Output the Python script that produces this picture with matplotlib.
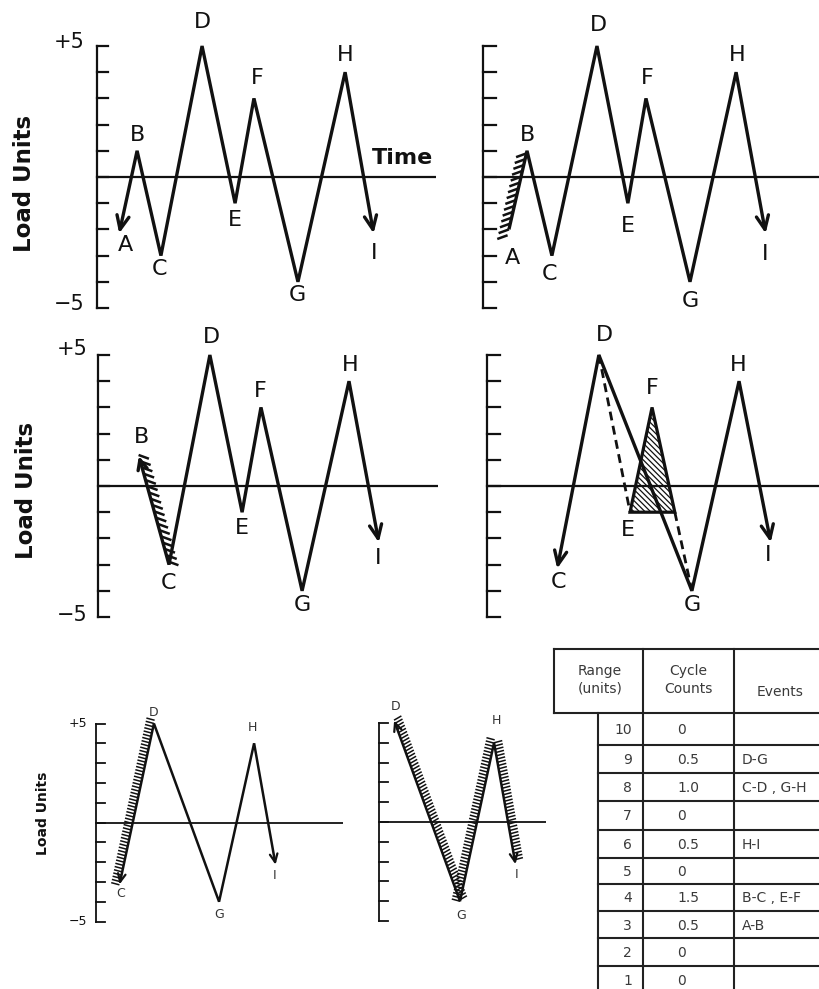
import matplotlib
matplotlib.use("Agg")
import matplotlib.pyplot as plt
from matplotlib.collections import LineCollection
from matplotlib.patches import Polygon
import numpy as np

plt.rcParams['font.family'] = ['DejaVu Sans']
plt.rcParams['hatch.linewidth'] = 0.9
plt.rcParams['hatch.color'] = '#333333'

W, H = 820, 989
fig = plt.figure(figsize=(W / 100, H / 100), dpi=100)
INK = '#111111'
TXT = '#3a3a3a'

# ---------------- data ----------------
event_labels = ["A", "B", "C", "D", "E", "F", "G", "H", "I"]
event_loads = [-2, 1, -3, 5, -1, 3, -4, 4, -2]

# time position of each turning point, per panel (arbitrary time units)
times_p1 = [0.88, 1.53, 2.44, 4.01, 5.27, 5.99, 7.67, 9.47, 10.53]   # A..I
times_p2 = [0.99, 1.68, 2.63, 4.35, 5.53, 6.22, 7.90, 9.66, 10.76]   # A..I
labels_p3 = ["B", "C", "D", "E", "F", "G", "H", "I"]
times_p3 = [1.60, 2.71, 4.27, 5.50, 6.22, 7.79, 9.58, 10.69]
labels_p4 = ["C", "D", "E", "F", "G", "H", "I"]
times_p4 = [2.71, 4.27, 5.46, 6.30, 7.82, 9.62, 10.80]
labels_p5 = ["C", "D", "G", "H", "I"]
times_p5 = [1.23, 2.94, 6.23, 8.00, 9.06]
labels_p6 = ["D", "G", "H", "I"]
times_p6 = [0.81, 4.09, 5.81, 6.87]

table_ranges = [10, 9, 8, 7, 6, 5, 4, 3, 2, 1]
table_counts = ["0", "0.5", "1.0", "0", "0.5", "0", "1.5", "0.5", "0", "0"]
table_events = ["", "D-G", "C-D , G-H", "", "H-I", "", "B-C , E-F", "A-B", "", ""]

load_of = dict(zip(event_labels, event_loads))


# ---------------- helpers ----------------
def panel(ax_x, zero_y, s, left, right, top, bottom):
    ax = fig.add_axes([left / W, 1 - bottom / H, (right - left) / W, (bottom - top) / H])
    ax.set_xlim((left - ax_x) / s, (right - ax_x) / s)
    ax.set_ylim((zero_y - bottom) / s, (zero_y - top) / s)
    ax.axis('off')
    ax.px = s
    return ax


def bracket(ax, tick_px, lw, x_end):
    s = ax.px
    segs = [[(0, -5), (0, 5)]]
    for v in range(-5, 6):
        segs.append([(0, v), (tick_px / s, v)])
    ax.add_collection(LineCollection(segs, colors=INK, linewidths=lw, capstyle='projecting'))
    ax.plot([0, x_end / s], [0, 0], color=INK, lw=lw, solid_capstyle='butt', clip_on=False)


def arrowhead(ax, p_from, p_to, length, half_angle, lw):
    a = ax.transData.transform(p_from)
    b = ax.transData.transform(p_to)
    d = (a - b) / np.linalg.norm(a - b)
    inv = ax.transData.inverted()
    segs = []
    for sgn in (1, -1):
        th = np.radians(sgn * half_angle)
        r = np.array([d[0] * np.cos(th) - d[1] * np.sin(th),
                      d[0] * np.sin(th) + d[1] * np.cos(th)])
        segs.append(inv.transform([b, b + r * length]))
    ax.add_collection(LineCollection(segs, colors=INK, linewidths=lw, capstyle='round'))


def hatch_strokes(ax, p0, p1, angle_deg, length, spacing, lw, ext0=0.0, ext1=0.0):
    a = ax.transData.transform(p0)
    b = ax.transData.transform(p1)
    L = np.linalg.norm(b - a)
    u = (b - a) / L
    dv = np.array([np.cos(np.radians(angle_deg)), np.sin(np.radians(angle_deg))])
    inv = ax.transData.inverted()
    segs = []
    for dd in np.arange(-ext0, L + ext1, spacing):
        q = a + u * dd
        segs.append(inv.transform([q, q + dv * length]))
    ax.add_collection(LineCollection(segs, colors=INK, linewidths=lw, capstyle='butt'))


def path(ax, ts, labs, lw):
    ys = [load_of[l] for l in labs]
    ax.plot(ts, ys, color=INK, lw=lw, solid_joinstyle='miter', solid_capstyle='butt')
    return dict(zip(labs, zip(ts, ys)))


def put_labels(ax, pts, offsets, size, color=INK):
    for lab, (dx, dy) in offsets.items():
        ax.annotate(lab, xy=pts[lab], xytext=(dx, -dy), textcoords='offset pixels',
                    ha='center', va='center', fontsize=size, color=color, annotation_clip=False)


def side_text(ax, txt, v, dx, dy, size):
    ax.annotate(txt, xy=(0, v), xytext=(dx, -dy), textcoords='offset pixels',
                ha='right', va='center', fontsize=size, color=INK, annotation_clip=False)


# ---------------- panel 1 (top-left) ----------------
ax1 = panel(97, 177, 26.2, 0, 440, 0, 320)
bracket(ax1, 11, 1.6, 339)
p = path(ax1, times_p1, event_labels, 2.4)
arrowhead(ax1, p["B"], p["A"], 15, 24, 2.4)
arrowhead(ax1, p["H"], p["I"], 15, 24, 2.4)
put_labels(ax1, p, {"A": (5, 16), "B": (0, -16), "C": (-1, 13), "D": (0, -24), "E": (0, 17),
                    "F": (3, -20), "G": (-1, 13), "H": (0, -17), "I": (1, 24)}, 16)
side_text(ax1, "+5", 5, -12, -4, 15)
side_text(ax1, "\u22125", -5, -12, -4, 15)
fig.text(403 / W, 1 - 158 / H, "Time", ha='center', va='center', fontsize=16,
         fontweight='bold', color=INK)
fig.text(25 / W, 1 - 183 / H, "Load Units", ha='center', va='center', fontsize=16.5,
         fontweight='bold', rotation=90, color=INK)

# ---------------- panel 2 (top-right) ----------------
ax2 = panel(483, 177, 26.2, 440, 820, 0, 320)
bracket(ax2, 13, 1.6, 340)
p = path(ax2, times_p2, event_labels, 2.4)
arrowhead(ax2, p["H"], p["I"], 15, 24, 2.4)
hatch_strokes(ax2, p["A"], p["B"], 200, 11, 6, 1.8, ext0=6)
put_labels(ax2, p, {"A": (4, 29), "B": (0, -16), "C": (-2, 18), "D": (1, -21), "E": (0, 23),
                    "F": (1, -20), "G": (0, 19), "H": (1, -17), "I": (0, 25)}, 16)

# ---------------- panel 3 (middle-left) ----------------
ax3 = panel(98, 486, 26.2, 0, 440, 320, 640)
bracket(ax3, 11, 1.6, 340)
p = path(ax3, times_p3, labels_p3, 2.4)
arrowhead(ax3, p["C"], p["B"], 11, 25, 2.4)
arrowhead(ax3, p["H"], p["I"], 15, 24, 2.4)
hatch_strokes(ax3, p["B"], p["C"], -20, 11, 6.5, 1.8, ext0=5)
put_labels(ax3, p, {"B": (2, -23), "C": (-1, 18), "D": (2, -18), "E": (0, 16),
                    "F": (-1, -16), "G": (0, 14), "H": (1, -16), "I": (0, 20)}, 16)
side_text(ax3, "+5", 5, -10, -6, 15)
side_text(ax3, "\u22125", -5, -10, -2, 15)
fig.text(27 / W, 1 - 490 / H, "Load Units", ha='center', va='center', fontsize=16.5,
         fontweight='bold', rotation=90, color=INK)

# ---------------- panel 4 (middle-right) ----------------
ax4 = panel(487, 486, 26.2, 440, 820, 320, 640)
bracket(ax4, 13, 1.6, 340)
p = {l: (t, load_of[l]) for l, t in zip(labels_p4, times_p4)}
solid = ["C", "D", "G", "H", "I"]
ax4.plot([p[l][0] for l in solid], [p[l][1] for l in solid], color=INK, lw=2.4,
         solid_joinstyle='miter', solid_capstyle='butt')
arrowhead(ax4, p["D"], p["C"], 15, 24, 2.4)
arrowhead(ax4, p["H"], p["I"], 15, 24, 2.4)
# point on F-G at the load level of E
tF, yF = p["F"]
tG, yG = p["G"]
yE = p["E"][1]
t3 = tF + (tG - tF) * (yF - yE) / (yF - yG)
ax4.plot([p["D"][0], p["E"][0]], [p["D"][1], p["E"][1]], color=INK, lw=2.0, ls=(0, (3.2, 2.0)))
ax4.plot([t3, tG], [yE, yG], color=INK, lw=2.0, ls=(0, (3.2, 2.0)))
tri = Polygon([p["E"], p["F"], (t3, yE)], closed=True, fill=False, hatch='\\\\\\\\\\\\',
              edgecolor=INK, lw=2.3, joinstyle='miter')
ax4.add_patch(tri)
put_labels(ax4, p, {"C": (0, 17), "D": (6, -20), "E": (-2, 18), "F": (0, -19),
                    "G": (0, 14), "H": (-1, -16), "I": (-2, 17)}, 16)

# ---------------- panel 5 (bottom-left) ----------------
ax5 = panel(95.7, 822.5, 19.8, 0, 350, 640, 989)
bracket(ax5, 9, 1.3, 247)
p = path(ax5, times_p5, labels_p5, 1.8)
arrowhead(ax5, p["D"], p["C"], 9, 25, 1.6)
arrowhead(ax5, p["H"], p["I"], 9, 25, 1.6)
hatch_strokes(ax5, p["C"], p["D"], 165, 8.5, 3.3, 1.1, ext0=3, ext1=5)
put_labels(ax5, p, {"C": (1, 12), "D": (0, -11), "G": (0, 13), "H": (-2, -16), "I": (-1, 13)},
           9, '#333333')
side_text(ax5, "+5", 5, -8, 0, 9)
side_text(ax5, "\u22125", -5, -8, 0, 9)
fig.text(43 / W, 1 - 813 / H, "Load Units", ha='center', va='center', fontsize=10,
         fontweight='bold', rotation=90, color=INK)

# ---------------- panel 6 (bottom-middle) ----------------
ax6 = panel(379, 822, 19.8, 350, 552, 640, 989)
bracket(ax6, 9, 1.3, 167)
p = path(ax6, times_p6, labels_p6, 1.8)
arrowhead(ax6, p["G"], p["D"], 9, 25, 1.6)
arrowhead(ax6, p["H"], p["I"], 9, 25, 1.6)
hatch_strokes(ax6, p["D"], p["G"], 30, 8.5, 3.3, 1.1, ext0=3)
hatch_strokes(ax6, p["G"], p["H"], 165, 8.5, 3.3, 1.1, ext1=6)
hatch_strokes(ax6, p["H"], p["I"], 15, 8.5, 3.3, 1.1)
put_labels(ax6, p, {"D": (1, -16), "G": (1, 14), "H": (2, -22), "I": (2, 13)}, 9, '#333333')

# ---------------- table ----------------
tab = fig.add_axes([0, 0, 1, 1])
tab.set_xlim(0, W)
tab.set_ylim(H, 0)
tab.axis('off')
TL = '#222222'
row_edges = [713, 745, 773, 801, 830, 858, 884, 911, 938, 966, 994]
hsegs = [[(554, 649), (830, 649)], [(554, 713), (830, 713)],
         [(554, 649), (554, 713)], [(643, 649), (643, 713)], [(734, 649), (734, 713)],
         [(598, 713), (598, 995)], [(643, 713), (643, 995)], [(734, 713), (734, 995)]]
for yv in row_edges[1:]:
    hsegs.append([(598, yv), (830, yv)])
tab.add_collection(LineCollection(hsegs, colors=TL, linewidths=1.5, capstyle='projecting'))

tab.text(600, 680, "Range\n(units)", ha='center', va='center', fontsize=10, color=TXT,
         linespacing=1.35)
tab.text(688, 680, "Cycle\nCounts", ha='center', va='center', fontsize=10, color=TXT,
         linespacing=1.35)
tab.text(780, 692, "Events", ha='center', va='center', fontsize=10, color=TXT)
for i, (r, c, e) in enumerate(zip(table_ranges, table_counts, table_events)):
    yc = (row_edges[i] + row_edges[i + 1]) / 2 + 1
    tab.text(632, yc, str(r), ha='right', va='center', fontsize=10, color=TXT)
    tab.text(677, yc, c, ha='left', va='center', fontsize=10, color=TXT)
    if e:
        tab.text(742, yc, e, ha='left', va='center', fontsize=10, color=TXT)

fig.savefig("out.png", dpi=100, facecolor='white')
